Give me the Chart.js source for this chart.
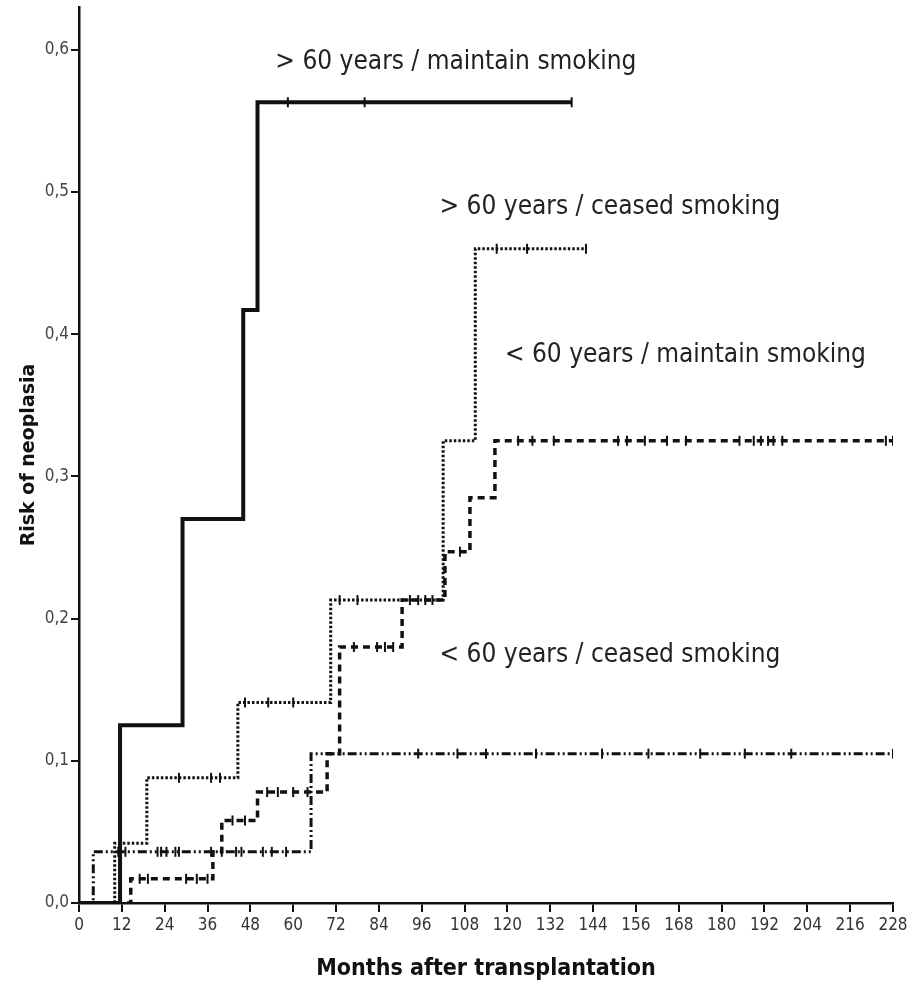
<!DOCTYPE html>
<html>
<head>
<meta charset="utf-8">
<title>Risk of neoplasia</title>
<script src="https://cdn.jsdelivr.net/npm/chart.js@4.4.1/dist/chart.umd.min.js"></script>
<style>
    html, body { margin: 0; padding: 0; background: #fff; }
    #wrap { width: 918px; height: 988px; position: relative; }
</style>
</head>
<body>
<div id="wrap"><canvas id="kmChart"></canvas></div>
<script>
// ==================== DATA ====================

const xTicks = [0, 12, 24, 36, 48, 60, 72, 84, 96, 108, 120, 132, 144, 156, 168, 180, 192, 204, 216, 228];
const yTicks = [0, 0.1, 0.2, 0.3, 0.4, 0.5, 0.6];

const groupNames = [
    '> 60 years / maintain smoking',
    '> 60 years / ceased smoking',
    '< 60 years / maintain smoking',
    '< 60 years / ceased smoking'
];

// step times (months) and cumulative risk from that time on
const oldSmokeTimes = [0, 11.5, 29, 46, 50, 138];
const oldSmokeRisk  = [0, 0.125, 0.27, 0.417, 0.563, 0.563];

const oldCeasedTimes = [0, 10, 19, 44.5, 70.5, 102, 111, 142];
const oldCeasedRisk  = [0, 0.042, 0.088, 0.141, 0.213, 0.325, 0.46, 0.46];

const youngSmokeTimes = [0, 14.5, 37.5, 40, 50, 69.5, 73, 90.5, 102.5, 109.5, 116.5, 228];
const youngSmokeRisk  = [0, 0.017, 0.036, 0.058, 0.078, 0.105, 0.18, 0.213, 0.247, 0.285, 0.325, 0.325];

const youngCeasedTimes = [0, 4, 65, 228];
const youngCeasedRisk  = [0, 0.036, 0.105, 0.105];

// censored observations (months)
const oldSmokeCensor = [58.5, 80, 138];
const oldCeasedCensor = [28, 37, 39.5, 46.5, 53, 60, 73, 78, 117, 125.5, 142];
const youngSmokeCensor = [17, 19.3, 30, 33, 36, 43, 46.5, 52.7, 55.7, 60, 64, 77, 83.5, 85.7, 88,
    92.7, 95, 97, 99, 106.7, 123, 127, 133, 151, 153.5, 158.5, 164.7, 170, 185, 189, 191, 193,
    194.5, 197, 226, 228];
const youngCeasedCensor = [11, 13, 22, 23, 24.5, 27, 28, 37, 40, 44, 45.5, 51.5, 54, 58, 95, 106,
    114, 128, 146.5, 159.5, 174, 186.5, 199.5, 228];

// ==================== HELPERS ====================

const NARROW = "'Liberation Sans Narrow', 'DejaVu Sans Condensed', 'Arial Narrow', sans-serif";

function toPoints(times, risks) {
    return times.map((t, i) => ({ x: t, y: risks[i] }));
}

function riskAt(times, risks, t) {
    let r = 0;
    for (let i = 0; i < times.length; i++) {
        if (times[i] <= t) r = risks[i];
    }
    return r;
}

function censorPoints(censor, times, risks) {
    return censor.map(t => ({ x: t, y: riskAt(times, risks, t) }));
}

function curve(label, times, risks, dash, width) {
    return {
        label,
        data: toPoints(times, risks),
        stepped: 'before',
        borderColor: '#111',
        borderWidth: width,
        borderDash: dash,
        pointRadius: 0,
        fill: false
    };
}

function marks(censor, times, risks) {
    return {
        label: 'censored',
        data: censorPoints(censor, times, risks),
        showLine: false,
        pointStyle: 'line',
        rotation: 90,
        pointRadius: 5,
        pointBorderWidth: 2,
        pointBorderColor: '#111',
        pointBackgroundColor: '#111'
    };
}

// text placed next to each curve, in data units
const labelAnchors = [
    { month: 55, risk: 0.591 },
    { month: 101, risk: 0.489 },
    { month: 119.3, risk: 0.385 },
    { month: 101, risk: 0.174 }
];

const curveLabelsPlugin = {
    id: 'curveLabels',
    afterDatasetsDraw(chart) {
        const { ctx, scales } = chart;
        ctx.save();
        ctx.fillStyle = '#222';
        ctx.font = '26px ' + NARROW;
        ctx.textAlign = 'left';
        ctx.textBaseline = 'middle';
        groupNames.forEach((name, i) => {
            const a = labelAnchors[i];
            ctx.fillText(name, scales.x.getPixelForValue(a.month), scales.y.getPixelForValue(a.risk));
        });
        ctx.restore();
    }
};

// ==================== CHART ====================

new Chart(document.getElementById('kmChart'), {
    type: 'line',
    data: {
        datasets: [
            curve(groupNames[0], oldSmokeTimes, oldSmokeRisk, [], 4),
            curve(groupNames[1], oldCeasedTimes, oldCeasedRisk, [2.5, 2], 3),
            curve(groupNames[2], youngSmokeTimes, youngSmokeRisk, [7, 5], 3.5),
            curve(groupNames[3], youngCeasedTimes, youngCeasedRisk, [9, 3, 2, 3, 2, 3], 3),
            marks(oldSmokeCensor, oldSmokeTimes, oldSmokeRisk),
            marks(oldCeasedCensor, oldCeasedTimes, oldCeasedRisk),
            marks(youngSmokeCensor, youngSmokeTimes, youngSmokeRisk),
            marks(youngCeasedCensor, youngCeasedTimes, youngCeasedRisk)
        ]
    },
    options: {
        responsive: true,
        maintainAspectRatio: false,
        animation: false,
        layout: { padding: { top: 7, right: 25, bottom: 0, left: 0 } },
        plugins: {
            legend: { display: false },
            tooltip: { enabled: false }
        },
        scales: {
            x: {
                type: 'linear',
                min: 0,
                max: 228,
                afterBuildTicks: s => { s.ticks = xTicks.map(v => ({ value: v })); },
                afterFit: s => { s.height = 85; s.paddingLeft = 0; s.paddingRight = 0; },
                grid: { drawOnChartArea: false, drawTicks: true, tickLength: 9, color: '#111', lineWidth: 2 },
                border: { color: '#111', width: 2.5 },
                ticks: {
                    autoSkip: false,
                    maxRotation: 0,
                    padding: 3,
                    color: '#333',
                    font: { family: NARROW, size: 17 }
                },
                title: {
                    display: true,
                    text: 'Months after transplantation',
                    color: '#111',
                    font: { family: NARROW, size: 23, weight: 'bold' },
                    padding: { top: 0, bottom: 5 }
                }
            },
            y: {
                min: 0,
                max: 0.63,
                afterBuildTicks: s => { s.ticks = yTicks.map(v => ({ value: v })); },
                afterFit: s => { s.width = 79; s.paddingTop = 0; s.paddingBottom = 0; },
                grid: { drawOnChartArea: false, drawTicks: true, tickLength: 8, color: '#111', lineWidth: 2 },
                border: { color: '#111', width: 2.5 },
                ticks: {
                    padding: 2,
                    color: '#444',
                    font: { family: NARROW, size: 17 },
                    callback: v => v.toFixed(1).replace('.', ',')
                },
                title: {
                    display: true,
                    text: 'Risk of neoplasia',
                    color: '#111',
                    font: { family: 'DejaVu Sans', size: 19, weight: 'bold' },
                    padding: { top: 18, bottom: 0 }
                }
            }
        }
    },
    plugins: [curveLabelsPlugin]
});
</script>
</body>
</html>
